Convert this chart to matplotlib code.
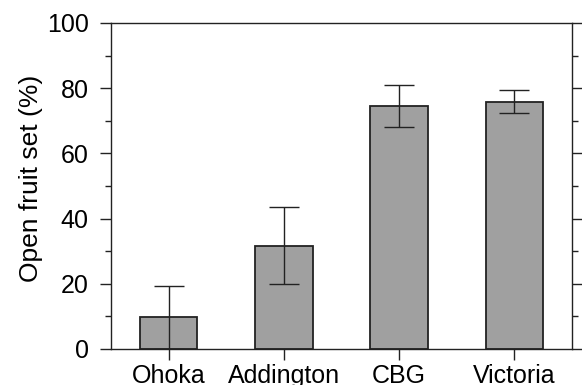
import matplotlib
matplotlib.use('Agg')
import matplotlib.pyplot as plt
import numpy as np

sites = ['Ohoka', 'Addington', 'CBG', 'Victoria']
fruit_set = [9.7, 31.7, 74.6, 75.9]
fruit_err = [9.6, 11.8, 6.4, 3.6]

plt.rcParams['font.family'] = ['Liberation Sans', 'DejaVu Sans']

fig = plt.figure(figsize=(5.82, 3.85), dpi=100)
ax = fig.add_axes([111 / 582, 1 - 349 / 385, 461 / 582, 326 / 385])

x = np.arange(len(sites))
ax.bar(x, fruit_set, width=0.5, color='#a0a0a0', edgecolor='#222222', linewidth=1.3)
ax.errorbar(x, fruit_set, yerr=fruit_err, fmt='none', ecolor='#222222',
            elinewidth=1.0, capsize=10.5, capthick=1.0)

ax.set_xlim(-0.5, 3.5)
ax.set_ylim(0, 100)
ax.set_xticks(x)
ax.set_xticklabels(sites)
ax.set_yticks(np.arange(0, 101, 20))
ax.set_yticks(np.arange(10, 100, 20), minor=True)

for side in ['left', 'right', 'top', 'bottom']:
    ax.spines[side].set_color('#222222')
    ax.spines[side].set_linewidth(1.0)

ax.tick_params(axis='y', which='major', direction='out', length=8, width=1.0,
               labelsize=18, pad=8, right=True, colors='#222222', labelcolor='black')
ax.tick_params(axis='y', which='minor', direction='out', length=4, width=1.0,
               right=True, colors='#222222')
ax.tick_params(axis='x', direction='out', length=8, width=1.0, labelsize=18,
               pad=3, colors='#222222', labelcolor='black')

ax.set_ylabel('Open fruit set (%)', fontsize=19)
ax.yaxis.set_label_coords(-0.148, 0.524)

fig.savefig('out.png', dpi=100)
